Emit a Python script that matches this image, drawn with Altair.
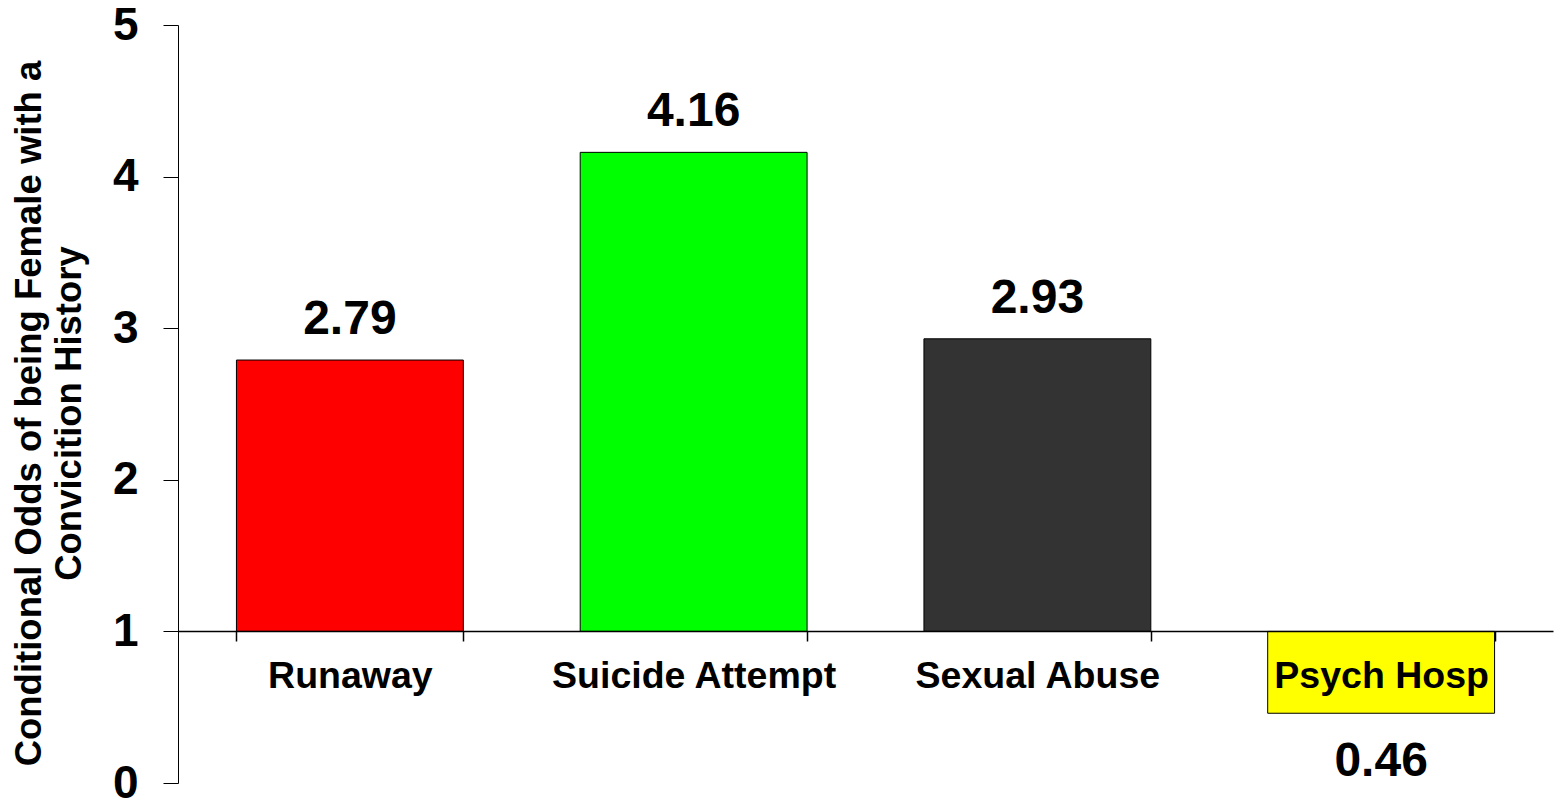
import altair as alt
import pandas as pd

categories = ["Runaway", "Suicide Attempt", "Sexual Abuse", "Psych Hosp"]
odds = [2.79, 4.16, 2.93, 0.46]
colors = ["#FF0000", "#00FF00", "#333333", "#FFFF00"]
labels = ["2.79", "4.16", "2.93", "0.46"]
y_ticks = [0, 1, 2, 3, 4, 5]

df = pd.DataFrame({"cat": categories, "odds": odds, "color": colors, "label": labels, "base": [1] * 4})

FONT = "Liberation Sans"

x_enc = alt.X(
    "cat:N",
    sort=categories,
    scale=alt.Scale(paddingInner=0.34, paddingOuter=0.17),
    axis=alt.Axis(
        title=None, orient="bottom", offset=-152, tickBand="extent", tickSize=10,
        labelAngle=0, labelFont=FONT, labelFontSize=37.5, labelFontWeight="bold",
        labelColor="black", labelPadding=16, labelLimit=0, domainColor="black", domainWidth=1.5,
        tickColor="black", tickWidth=1.5, zindex=1,
    ),
)
y_scale = alt.Scale(domain=[0, 5], nice=False, zero=True)
y_enc = alt.Y(
    "odds:Q",
    scale=y_scale,
    axis=alt.Axis(
        values=y_ticks, format="d", grid=False, tickSize=15, tickColor="black",
        domainColor="black", labelFont=FONT, labelFontSize=46, labelFontWeight="bold",
        labelColor="black", labelPadding=25,
        title=["Conditional Odds of being Female with a", "Convicition History"],
        titleFont=FONT, titleFontSize=36.5, titleFontWeight="bold", titleColor="black",
        titlePadding=24, titleLineHeight=40, titleY=388,
    ),
)

bars = alt.Chart(df).mark_bar(stroke="black", strokeWidth=1).encode(
    x=x_enc,
    y=y_enc,
    y2="base:Q",
    color=alt.Color("color:N", scale=None),
)

text_pos = alt.Chart(df).transform_filter("datum.odds >= 1").mark_text(
    font=FONT, fontSize=48, fontWeight="bold", color="black", baseline="alphabetic", dy=-26
).encode(x=alt.X("cat:N", sort=categories), y=alt.Y("odds:Q", scale=y_scale), text="label:N")

text_neg = alt.Chart(df).transform_filter("datum.odds < 1").mark_text(
    font=FONT, fontSize=48, fontWeight="bold", color="black", baseline="alphabetic", dy=63
).encode(x=alt.X("cat:N", sort=categories), y=alt.Y("odds:Q", scale=y_scale), text="label:N")

chart = (
    alt.layer(bars, text_pos, text_neg)
    .properties(
        width=1375, height=758,
        autosize=alt.AutoSizeParams(type="none"),
        padding={"left": 178, "top": 25, "right": 9, "bottom": 19},
        background="white",
    )
    .configure_view(strokeWidth=0, stroke="transparent")
)

chart.save("out.html", embed_options={"renderer": "svg", "actions": False})
